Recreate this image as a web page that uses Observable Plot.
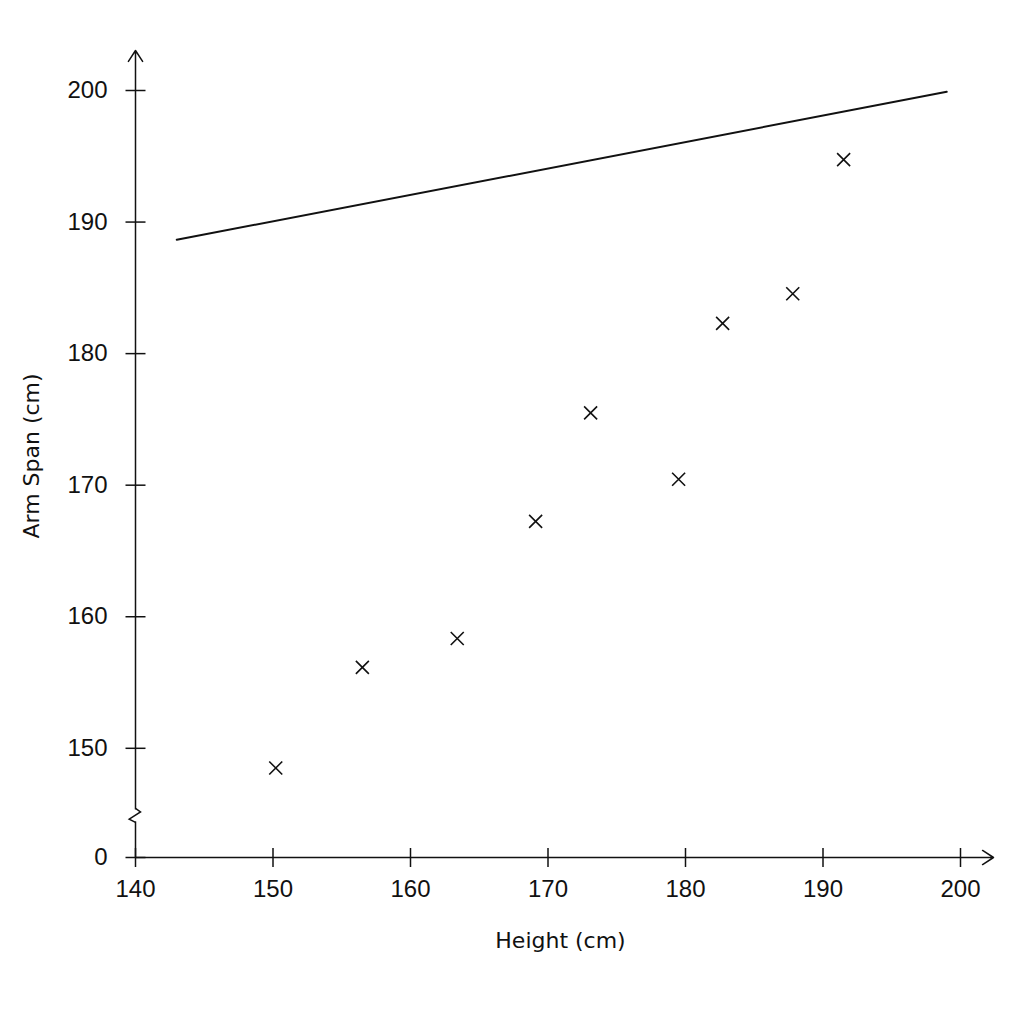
<!DOCTYPE html>
<html>
<head>
<meta charset="utf-8">
<script src="https://cdn.jsdelivr.net/npm/d3@7"></script>
<script src="https://cdn.jsdelivr.net/npm/@observablehq/plot@0.6"></script>
<style>
  html, body { margin: 0; padding: 0; background: #fff; }
</style>
</head>
<body>
<div id="chart"></div>
<script>
// ---- data ----
const heights  = [150.2, 156.5, 163.4, 169.1, 173.1, 179.5, 182.7, 187.8, 191.5];
const armSpans = [148.5, 156.15, 158.35, 167.25, 175.5, 170.45, 182.3, 184.55, 194.75];

const lineHeights  = [143.0, 199.0];
const lineArmSpans = [188.65, 199.9];

const xTickValues = [140, 150, 160, 170, 180, 190, 200];
const xTickLabels = ["140", "150", "160", "170", "180", "190", "200"];

const yAxisFloor  = 141.7;   // broken axis: the bottom of the axis is labelled "0"
const yTickValues = [yAxisFloor, 150, 160, 170, 180, 190, 200];
const yTickLabels = ["0", "150", "160", "170", "180", "190", "200"];
const yBreakAt    = 144.9;

const xTitle = "Height (cm)";
const yTitle = "Arm Span (cm)";

// ---- derived tables ----
const points = heights.map((h, i) => ({height: h, span: armSpans[i]}));
const trend  = lineHeights.map((h, i) => ({height: h, span: lineArmSpans[i]}));
const xLabelMap = new Map(xTickValues.map((v, i) => [v, xTickLabels[i]]));
const yLabelMap = new Map(yTickValues.map((v, i) => [v, yTickLabels[i]]));

// ---- custom glyphs ----
const ink = "#111";
const hTick  = {draw(c) { c.moveTo(-10, 0); c.lineTo(10, 0); }};
const vTick  = {draw(c) { c.moveTo(0, -9.5); c.lineTo(0, 9.5); }};
const cross  = {draw(c) { const s = 6.5; c.moveTo(-s, -s); c.lineTo(s, s); c.moveTo(-s, s); c.lineTo(s, -s); }};
const gap    = {draw(c) { c.moveTo(0, -6); c.lineTo(0, 6); }};
const zigzag = {draw(c) { c.moveTo(0, -7); c.lineTo(5, -3.5); c.lineTo(-6.3, 3.8); c.lineTo(0, 7); }};

const chart = Plot.plot({
  width: 1024,
  height: 1024,
  marginLeft: 135,
  marginRight: 64,
  marginTop: 90,
  marginBottom: 167,
  x: {domain: [xTickValues[0], xTickValues[xTickValues.length - 1]]},
  y: {domain: [yAxisFloor, yTickValues[yTickValues.length - 1]]},
  style: {background: "#fff", fontFamily: "'Liberation Sans', Arial, sans-serif", color: ink},
  marks: [
    // axis lines with open arrowheads
    Plot.arrow([0], {
      x1: xTickValues[0], x2: xTickValues[xTickValues.length - 1],
      y1: yAxisFloor, y2: yAxisFloor,
      insetEnd: -33, headLength: 13, headAngle: 66, stroke: ink, strokeWidth: 1.5
    }),
    Plot.arrow([0], {
      x1: xTickValues[0], x2: xTickValues[0],
      y1: yAxisFloor, y2: yTickValues[yTickValues.length - 1],
      insetEnd: -40, headLength: 13, headAngle: 66, stroke: ink, strokeWidth: 1.5
    }),
    // axis break
    Plot.dot([yBreakAt], {y: d => d, frameAnchor: "left", symbol: gap, stroke: "#fff", strokeWidth: 5, fill: "none"}),
    Plot.dot([yBreakAt], {y: d => d, frameAnchor: "left", symbol: zigzag, stroke: ink, strokeWidth: 1.5, fill: "none"}),
    // tick marks crossing the axes
    Plot.dot(xTickValues, {x: d => d, frameAnchor: "bottom", symbol: vTick, stroke: ink, strokeWidth: 1.5, fill: "none"}),
    Plot.dot(yTickValues, {y: d => d, frameAnchor: "left", symbol: hTick, stroke: ink, strokeWidth: 1.5, fill: "none"}),
    // tick labels
    Plot.axisX({ticks: xTickValues, tickSize: 0, tickPadding: 22, tickFormat: d => xLabelMap.get(d), fontSize: 24, fill: ink, label: null}),
    Plot.axisY({ticks: yTickValues, tickSize: 0, tickPadding: 28, tickFormat: d => yLabelMap.get(d), fontSize: 24, fill: ink, label: null}),
    // axis titles
    Plot.text([xTitle], {text: d => d, frameAnchor: "bottom", textAnchor: "middle", lineAnchor: "middle", dx: 12.5, dy: 83, fontSize: 22, fontFamily: "'DejaVu Sans', sans-serif", fill: ink}),
    Plot.text([yTitle], {text: d => d, frameAnchor: "left", textAnchor: "middle", lineAnchor: "middle", rotate: -90, dx: -104, dy: -18, fontSize: 22, fontFamily: "'DejaVu Sans', sans-serif", fill: ink}),
    // trend line
    Plot.line(trend, {x: "height", y: "span", stroke: ink, strokeWidth: 2}),
    // data points
    Plot.dot(points, {x: "height", y: "span", symbol: cross, stroke: ink, strokeWidth: 1.6, fill: "none"})
  ]
});

document.getElementById("chart").appendChild(chart);
</script>
</body>
</html>
